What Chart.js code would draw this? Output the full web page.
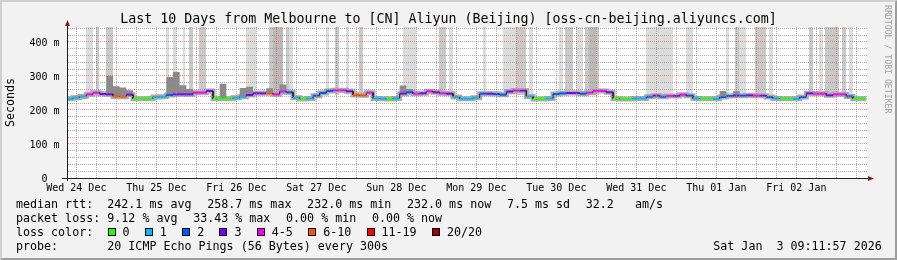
<!DOCTYPE html>
<html><head><meta charset="utf-8"><title>SmokePing</title>
<script src="https://cdn.jsdelivr.net/npm/chart.js@4.4.1/dist/chart.umd.min.js"></script>
<style>
html,body{margin:0;padding:0;background:#f2f2f2;overflow:hidden}
#wrap{position:relative;width:897px;height:260px}
#c{position:absolute;left:0;top:0;width:897px;height:260px}
.t{position:absolute;font-family:"DejaVu Sans Mono",monospace;white-space:pre;color:#000;font-size:11.66px;line-height:14px}
.row{position:absolute;display:flex;align-items:center;font-family:"DejaVu Sans Mono",monospace;white-space:pre;font-size:11.66px;line-height:14px;color:#000}
.box{display:inline-block;width:6px;height:6px;border:1px solid #000;margin-right:7px}
</style></head><body>
<div id="wrap"><canvas id="c" width="897" height="260"></canvas><div id="txt"></div></div>
<script>
// ---------- data ----------
const titleText = 'Last 10 Days from Melbourne to [CN] Aliyun (Beijing) [oss-cn-beijing.aliyuncs.com]';
// time points, hours since Wed 24 Dec 00:00 (2-hour steps)
const hours = [
  10,12,14,16,18,20,22,24,26,28,
  30,32,34,36,38,40,42,44,46,48,
  50,52,54,56,58,60,62,64,66,68,
  70,72,74,76,78,80,82,84,86,88,
  90,92,94,96,98,100,102,104,106,108,
  110,112,114,116,118,120,122,124,126,128,
  130,132,134,136,138,140,142,144,146,148,
  150,152,154,156,158,160,162,164,166,168,
  170,172,174,176,178,180,182,184,186,188,
  190,192,194,196,198,200,202,204,206,208,
  210,212,214,216,218,220,222,224,226,228,
  230,232,234,236,238,240,242,244,246,248];
// median rtt (ms)
const median = [
  233,236,240,246,251,247,246,240,239,245,
  233,233,233,238,239,244,246,246,246,251,
  251,256,233,233,233,236,239,244,249,249,
  249,246,254,252,236,232,234,242,250,256,
  258,258,255,244,243,251,234,233,232,234,
  248,252,248,249,255,252,249,248,238,233,
  233,236,248,248,247,245,254,257,257,240,
  232,232,234,247,249,250,250,248,251,256,
  256,252,233,232,232,234,234,239,242,239,
  241,241,245,242,234,233,233,233,238,241,
  242,242,243,242,242,238,234,233,233,233,
  238,249,248,248,243,246,246,240,233,233];
// loss class index into lossColors
const loss = [
  1,1,1,4,4,3,3,5,5,3,
  0,0,0,1,1,2,3,3,3,4,
  4,3,0,0,0,1,1,3,3,3,
  5,4,4,2,1,0,1,2,2,2,
  4,4,3,5,5,4,1,1,0,1,
  3,2,4,3,4,3,4,3,1,1,
  1,1,2,3,2,2,3,4,3,1,
  0,0,1,2,2,3,3,2,4,4,
  4,3,0,0,0,1,1,2,3,2,
  4,3,4,2,1,0,0,1,2,2,
  3,2,3,4,3,2,1,0,0,1,
  2,3,4,4,3,4,4,2,0,0];
// smoke spread (ms)
const smokeTop = [
  238,243,247,254,258,256,258,252,250,252,
  236,236,237,244,246,252,256,256,254,258,
  258,262,236,237,237,242,246,252,256,257,
  258,256,262,260,243,235,238,249,257,263,
  265,265,263,254,252,259,239,237,235,238,
  257,260,256,256,262,260,257,255,245,237,
  237,242,255,256,254,253,262,264,264,247,
  235,235,239,254,256,257,257,255,258,263,
  263,258,237,235,235,238,240,245,249,246,
  248,248,251,249,239,236,236,237,244,247,
  249,248,250,249,248,244,239,236,236,237,
  244,256,255,255,250,253,253,246,237,236];
const smokeBot = [
  231,233,236,241,245,242,241,235,234,239,
  231,231,231,235,235,240,241,241,241,245,
  245,250,231,231,231,233,235,239,243,244,
  243,241,248,246,233,230,231,238,245,250,
  252,252,249,238,237,245,231,231,230,231,
  242,246,242,243,249,246,243,242,234,231,
  231,233,243,242,241,240,248,251,251,236,
  230,230,231,242,244,245,245,243,245,250,
  250,246,231,230,230,231,231,235,238,235,
  236,236,240,237,231,231,231,231,234,236,
  237,237,238,237,237,234,231,231,231,231,
  234,243,243,243,238,241,241,236,231,231];
// dark smoke peaks (ms), null = none
const spikeTop = [
  null,null,null,null,null,null,300,270,266,258,
  null,null,null,null,null,297,312,273,262,null,
  null,null,null,277,null,null,265,268,null,null,
  264,null,275,null,null,null,null,null,null,null,
  null,null,null,null,null,null,null,null,null,null,
  272,262,null,null,null,null,null,null,null,null,
  null,null,null,null,null,null,null,null,null,null,
  null,null,null,null,null,null,null,null,null,null,
  null,null,null,null,null,null,null,null,null,null,
  null,null,null,null,null,null,null,null,256,null,
  255,null,null,null,null,null,null,null,null,null,
  null,null,null,null,null,null,null,null,null,null];
// tall smoke columns (lost pings): [from hour, to hour, shade]
const tallBars = [
  [14.9,17.0,0],[17.9,18.8,1],[20.9,23.0,1],[38.9,39.8,0],[41.0,41.9,0],[44.0,44.6,0],
  [45.8,47.0,1],[48.8,50.9,1],[62.9,65.9,0],[69.8,71.0,1],[71.0,74.0,2],[74.9,75.8,1],
  [75.8,77.0,0],[86.9,87.8,0],[89.6,90.8,1],[92.9,93.8,0],[96.8,98.0,1],[110.0,113.9,0],
  [120.8,122.9,1],[123.8,125.0,0],[134.0,134.9,0],[140.0,143.9,0],[143.9,146.9,1],[147.8,149.0,0],
  [156.8,158.0,0],[158.6,161.0,1],[161.9,164.0,0],[164.6,165.8,1],[165.8,167.9,2],[167.9,168.8,1],
  [182.9,191.0,0],[194.9,197.0,0],[206.9,207.8,0],[209.6,210.8,1],[210.8,212.9,0],[215.6,218.9,1],
  [219.8,221.0,0],[231.8,233.0,1],[234.8,236.0,0],[236.6,240.8,1],[241.7,242.9,1],[243.8,245.0,0]];
// axis labels
const xLabelHours = [12,36,60,84,108,132,156,180,204,228];
const xLabels = ['Wed 24 Dec','Thu 25 Dec','Fri 26 Dec','Sat 27 Dec','Sun 28 Dec','Mon 29 Dec','Tue 30 Dec','Wed 31 Dec','Thu 01 Jan','Fri 02 Jan'];
const yTickValues = [0,100,200,300,400];
const yTickLabels = ['0  ','100 m','200 m','300 m','400 m'];
// legend
const lossColors = ['#26ff00','#00b8ff','#0059ff','#7e00ff','#ff00ff','#ff5500','#ff0000','#a10000'];
const lossLabels = ['0','1','2','3','4-5','6-10','11-19','20/20'];
const rttStats = ['242.1 ms avg','258.7 ms max','232.0 ms min','232.0 ms now','7.5 ms sd','32.2   am/s'];
const lossStats = ['9.12 % avg','33.43 % max','0.00 % min','0.00 % now'];
const probeText = '20 ICMP Echo Pings (56 Bytes) every 300s';
const dateText = 'Sat Jan  3 09:11:57 2026';

// ---------- styles ----------
const FONT = 'DejaVu Sans Mono';
const barShades = ['#dcdcdc','#c9c9c9','#bababa'];
const UNBOUNDED = 1000;
const BAR_BASE = 244;
const GRID_MINOR = 'rgba(143,143,143,0.75)';
const GRID_MAJOR = 'rgba(222,79,79,0.6)';

// ---------- build ----------
function steps(vals){
  const out = [];
  hours.forEach((h,i) => { out.push({x:h-1,y:vals[i]},{x:h+1,y:vals[i]}); });
  return out;
}
const datasets = [];
tallBars.forEach(([a,b,s]) => datasets.push({
  data:[{x:a,y:UNBOUNDED},{x:b,y:UNBOUNDED}], borderWidth:0, pointRadius:0,
  backgroundColor:barShades[s], fill:{value:BAR_BASE}, order:10
}));
const botIdx = datasets.length;
datasets.push({data:steps(smokeBot), borderWidth:0, pointRadius:0, fill:false, order:9});
datasets.push({data:steps(smokeTop), borderWidth:0, pointRadius:0, fill:botIdx, backgroundColor:'#d3d3d3', order:8});
const underIdx = datasets.length;
datasets.push({data:steps(median), borderWidth:5, borderColor:'#ababab', pointRadius:0, fill:false, order:6});
datasets.push({data:steps(spikeTop.map((v,i)=> v==null ? median[i] : v)), borderWidth:0, pointRadius:0,
  fill:underIdx, backgroundColor:'#8a8a8a', order:5});
datasets.push({data:steps(median), pointRadius:0, fill:false, order:1, borderColor:'#202020', borderWidth:2,
  segment:{
    borderColor: c => (c.p0DataIndex % 2 === 0) ? lossColors[loss[c.p0DataIndex >> 1]] : '#202020',
    borderWidth: c => (c.p0DataIndex % 2 === 0) ? 2 : 1
  }});

const framePlugin = {
  id:'frame',
  beforeDraw(chart){
    const {ctx, chartArea:a, width:W, height:H} = chart;
    ctx.save();
    ctx.fillStyle = '#f2f2f2'; ctx.fillRect(0,0,W,H);
    ctx.fillStyle = '#cfcfcf';
    ctx.beginPath(); ctx.moveTo(0,H); ctx.lineTo(2,H-2); ctx.lineTo(2,2); ctx.lineTo(W-2,2); ctx.lineTo(W,0); ctx.lineTo(0,0); ctx.closePath(); ctx.fill();
    ctx.fillStyle = '#9e9e9e';
    ctx.beginPath(); ctx.moveTo(2,H-2); ctx.lineTo(W-2,H-2); ctx.lineTo(W-2,2); ctx.lineTo(W,0); ctx.lineTo(W,H); ctx.lineTo(0,H); ctx.closePath(); ctx.fill();
    ctx.fillStyle = '#ffffff'; ctx.fillRect(a.left, a.top, a.right-a.left, a.bottom-a.top);
    ctx.restore();
  },
  afterDraw(chart){
    const {ctx, chartArea:a} = chart;
    ctx.save();
    ctx.strokeStyle = '#1f1f1f'; ctx.lineWidth = 1;
    ctx.beginPath();
    ctx.moveTo(a.left+0.5, a.bottom+3); ctx.lineTo(a.left+0.5, a.top-4);
    ctx.moveTo(a.left-5, a.bottom+0.5); ctx.lineTo(a.right+3, a.bottom+0.5);
    ctx.stroke();
    ctx.fillStyle = '#801f1f';
    ctx.beginPath(); ctx.moveTo(a.left-2, a.top-1); ctx.lineTo(a.left+3, a.top-1); ctx.lineTo(a.left+0.5, a.top-7); ctx.closePath(); ctx.fill();
    ctx.beginPath(); ctx.moveTo(a.right+1, a.bottom-2); ctx.lineTo(a.right+1, a.bottom+3); ctx.lineTo(a.right+7, a.bottom+0.5); ctx.closePath(); ctx.fill();
    ctx.restore();
  }
};

Chart.defaults.font.family = FONT;
new Chart(document.getElementById('c'), {
  type:'line',
  data:{datasets},
  options:{
    responsive:false, animation:false, devicePixelRatio:1, events:[],
    layout:{padding:{left:0, top:27, right:30, bottom:62}},
    plugins:{legend:{display:false}, tooltip:{enabled:false}, title:{display:false}},
    elements:{point:{radius:0}, line:{tension:0}},
    scales:{
      x:{type:'linear', min:9.2, max:249.2,
        afterBuildTicks: ax => { const t=[]; for (let h=12; h<249.2; h+=6) t.push({value:h}); ax.ticks=t; },
        afterFit: ax => { ax.height = 20; },
        grid:{z:1, drawTicks:false, lineWidth:1, color: c => (c.tick && c.tick.value % 24 === 0) ? GRID_MAJOR : GRID_MINOR},
        border:{z:2, display:true, color:'#1f1f1f', width:1, dash:[1,1]},
        ticks:{autoSkip:false, maxRotation:0, minRotation:0, padding:4, color:'#000', font:{size:10, family:FONT},
          callback: v => { const k = xLabelHours.indexOf(v); return k >= 0 ? xLabels[k] : ''; }}
      },
      y:{min:0, max:444,
        afterBuildTicks: ax => { const t=[]; for (let v=0; v<=440; v+=20) t.push({value:v}); ax.ticks=t; },
        afterFit: ax => { ax.width = 67; },
        grid:{z:1, drawTicks:false, lineWidth:1, color: c => {
          if (!c.tick || c.tick.value === 0) return 'rgba(0,0,0,0)';
          return c.tick.value % 100 === 0 ? GRID_MAJOR : GRID_MINOR; }},
        border:{z:2, display:true, color:'#1f1f1f', width:1, dash:[1,1]},
        ticks:{autoSkip:false, padding:7.5, labelOffset:1.3, color:'#000', font:{size:10, family:FONT},
          callback: v => { const k = yTickValues.indexOf(v); return k >= 0 ? yTickLabels[k] : ''; }},
        title:{display:true, text:'Seconds', color:'#000', font:{size:11.66, family:FONT}, padding:{top:4, bottom:0}}
      }
    }
  },
  plugins:[framePlugin]
});

// ---------- text ----------
const txt = document.getElementById('txt');
function el(cls, styles, text){ const d=document.createElement('div'); d.className=cls; Object.assign(d.style, styles); if(text!=null) d.textContent=text; txt.appendChild(d); return d; }
el('t', {left:'0px', top:'10.9px', width:'897px', textAlign:'center', fontSize:'13.3px', lineHeight:'16px'}, titleText);
el('t', {left:'883px', top:'5px', writingMode:'vertical-rl', fontSize:'8.2px', lineHeight:'10px', color:'#a0a0a0'}, 'RRDTOOL / TOBI OETIKER');
const rowTop = [197.3, 211.3, 225.3, 239.3];
el('t', {left:'16px', top:rowTop[0]+'px'}, 'median rtt:');
el('t', {left:'16px', top:rowTop[1]+'px'}, 'packet loss:');
el('t', {left:'16px', top:rowTop[2]+'px'}, 'loss color:');
el('t', {left:'16px', top:rowTop[3]+'px'}, 'probe:');
function statRow(top, items){
  const r = el('row', {left:'107.3px', top:top+'px', gap:'15.7px'});
  items.forEach(s => { const sp=document.createElement('span'); sp.textContent=s; r.appendChild(sp); });
}
statRow(rowTop[0], rttStats);
statRow(rowTop[1], lossStats);
const lr = el('row', {left:'107.5px', top:rowTop[2]+'px', gap:'15.3px'});
lossLabels.forEach((l,i) => {
  const g=document.createElement('span'); g.style.display='inline-flex'; g.style.alignItems='center';
  const b=document.createElement('span'); b.className='box'; b.style.background=lossColors[i];
  const s=document.createElement('span'); s.textContent=l;
  g.appendChild(b); g.appendChild(s); lr.appendChild(g);
});
el('t', {left:'107.3px', top:rowTop[3]+'px'}, probeText);
el('t', {left:'713.3px', top:rowTop[3]+'px'}, dateText);
</script></body></html>
